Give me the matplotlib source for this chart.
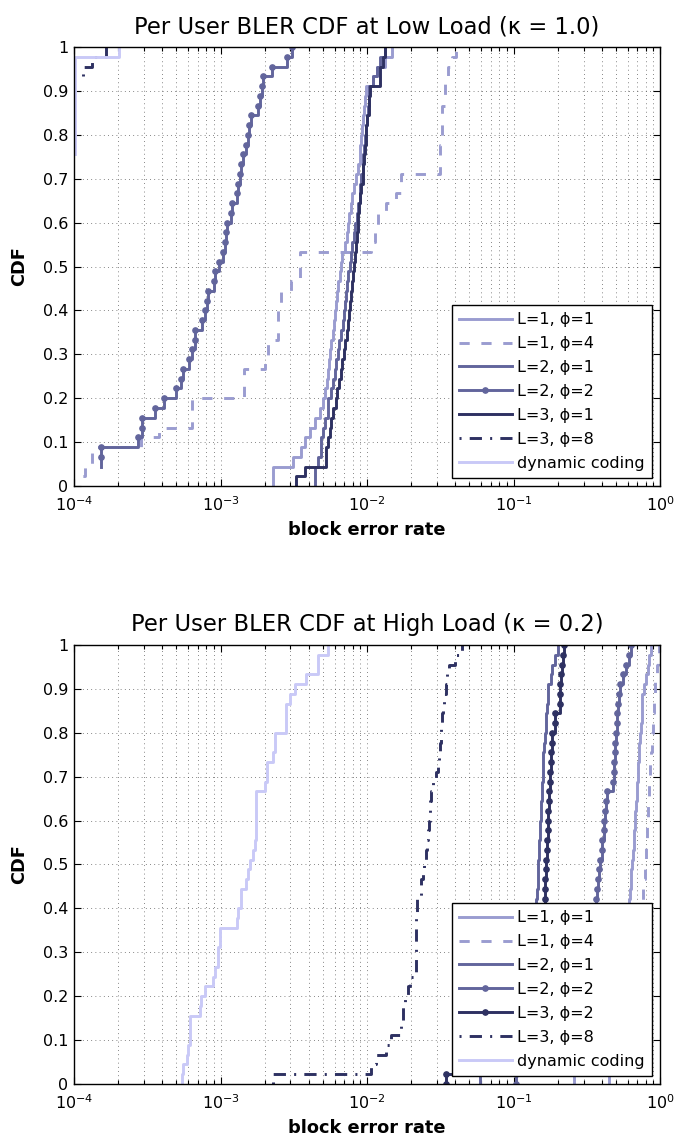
import numpy as np
import matplotlib
matplotlib.use("Agg")
import matplotlib.pyplot as plt
from matplotlib.ticker import LogLocator, NullFormatter

plt.rcParams['font.family'] = ['DejaVu Sans']
plt.rcParams['mathtext.fontset'] = 'dejavusans'

nan = np.nan

# per-user block error rate, log10, sorted (45 users); nan = no errors (off the log axis)
# --- low load (kappa = 1.0)
l1p1_low = [-2.645, -2.645, -2.505, -2.452, -2.425, -2.391, -2.357, -2.323, -2.30, -2.284,
            -2.275, -2.268, -2.259, -2.25, -2.243, -2.232, -2.225, -2.218, -2.21, -2.202,
            -2.195, -2.187, -2.18, -2.172, -2.15, -2.14, -2.13, -2.12, -2.11, -2.10,
            -2.09, -2.075, -2.06, -2.05, -2.045, -2.04, -2.035, -2.025, -2.02, -2.012,
            -2.005, -1.959, -1.93, -1.88, -1.83]
l1p4_low = [-4.02, -3.925, -3.88, -3.88, -3.542, -3.418, -3.195, -3.195, -3.195, -2.841,
            -2.841, -2.841, -2.698, -2.675, -2.675, -2.607, -2.607, -2.607, -2.584, -2.584,
            -2.516, -2.459, -2.459, -2.459, -1.97, -1.948, -1.925, -1.925, -1.868, -1.80,
            -1.766, -1.766, -1.50, -1.50, -1.50, -1.49, -1.49, -1.49, -1.49, -1.47,
            -1.47, -1.47, -1.45, -1.42, -1.39]
l2p1_low = [-2.357, -2.357, -2.334, -2.311, -2.311, -2.30, -2.289, -2.266, -2.266, -2.243,
            -2.232, -2.22, -2.21, -2.198, -2.19, -2.175, -2.167, -2.159, -2.15, -2.141,
            -2.135, -2.13, -2.118, -2.11, -2.10, -2.09, -2.08, -2.07, -2.06, -2.05,
            -2.045, -2.04, -2.03, -2.025, -2.02, -2.015, -2.005, -2.0, -1.995, -1.99,
            -1.985, -1.96, -1.93, -1.91, -1.88]
l2p2_low = [nan, nan, -3.817, -3.817, -3.560, -3.535, -3.535, -3.447, -3.384, -3.305,
            -3.271, -3.255, -3.214, -3.192, -3.176, -3.176, -3.124, -3.108, -3.090, -3.084,
            -3.043, -3.038, -3.011, -2.982, -2.971, -2.966, -2.955, -2.932, -2.921, -2.885,
            -2.878, -2.869, -2.860, -2.846, -2.824, -2.813, -2.808, -2.792, -2.747, -2.729,
            -2.718, -2.707, -2.650, -2.549, -2.515]
l3p1_low = [-2.486, -2.425, -2.277, -2.277, -2.265, -2.255, -2.243, -2.232, -2.214, -2.205,
            -2.191, -2.18, -2.168, -2.16, -2.148, -2.14, -2.132, -2.125, -2.115, -2.107,
            -2.10, -2.095, -2.091, -2.085, -2.077, -2.07, -2.065, -2.06, -2.055, -2.05,
            -2.04, -2.03, -2.025, -2.02, -2.015, -2.01, -2.005, -2.0, -1.99, -1.985,
            -1.98, -1.914, -1.91, -1.89, -1.88]
l3p8_low = [nan] * 42 + [-3.937, -3.88, -3.78]
dyn_low = [nan] * 34 + [-3.99] * 10 + [-3.693]

# --- high load (kappa = 0.2)
l1p1_high = [-0.589, -0.42, -0.38, -0.35, -0.33, -0.31, -0.295, -0.285, -0.275, -0.265,
             -0.257, -0.25, -0.243, -0.237, -0.231, -0.225, -0.22, -0.215, -0.209, -0.205,
             -0.20, -0.196, -0.191, -0.186, -0.18, -0.175, -0.172, -0.168, -0.164, -0.16,
             -0.156, -0.152, -0.148, -0.144, -0.141, -0.137, -0.13, -0.127, -0.125, -0.123,
             -0.107, -0.095, -0.084, -0.073, -0.061]
l1p4_high = [-0.35, -0.30, -0.27, -0.25, -0.23, -0.21, -0.195, -0.185, -0.175, -0.165,
             -0.158, -0.151, -0.145, -0.14, -0.135, -0.13, -0.125, -0.121, -0.118, -0.115,
             -0.107, -0.103, -0.10, -0.097, -0.095, -0.09, -0.087, -0.084, -0.08, -0.077,
             -0.073, -0.07, -0.066, -0.061, -0.058, -0.055, -0.05, -0.047, -0.043, -0.039,
             -0.036, -0.032, -0.02, -0.012, -0.005]
l2p1_high = [-1.23, -0.93, -0.92, -0.91, -0.90, -0.895, -0.89, -0.885, -0.88, -0.875,
             -0.87, -0.866, -0.862, -0.858, -0.855, -0.852, -0.85, -0.848, -0.845, -0.84,
             -0.836, -0.832, -0.83, -0.828, -0.826, -0.822, -0.818, -0.816, -0.812, -0.808,
             -0.805, -0.802, -0.799, -0.796, -0.793, -0.786, -0.78, -0.777, -0.772, -0.768,
             -0.766, -0.743, -0.735, -0.72, -0.698]
l2p2_high = [-0.985, -0.62, -0.58, -0.56, -0.54, -0.525, -0.51, -0.50, -0.49, -0.48,
             -0.472, -0.465, -0.46, -0.455, -0.45, -0.445, -0.442, -0.439, -0.436, -0.43,
             -0.424, -0.418, -0.41, -0.40, -0.395, -0.385, -0.38, -0.375, -0.37, -0.362,
             -0.323, -0.318, -0.314, -0.311, -0.306, -0.30, -0.296, -0.292, -0.289, -0.284,
             -0.277, -0.255, -0.232, -0.214, -0.202]
l3p2_high = [-1.458, -0.86, -0.85, -0.845, -0.84, -0.835, -0.83, -0.826, -0.822, -0.818,
             -0.814, -0.81, -0.807, -0.804, -0.801, -0.798, -0.795, -0.792, -0.789, -0.786,
             -0.783, -0.78, -0.777, -0.774, -0.771, -0.768, -0.766, -0.763, -0.76, -0.757,
             -0.754, -0.75, -0.747, -0.743, -0.739, -0.735, -0.72, -0.718, -0.686, -0.683,
             -0.68, -0.675, -0.668, -0.663, -0.657]
l3p8_high = [-2.641, -1.975, -1.936, -1.868, -1.834, -1.766, -1.755, -1.755, -1.743, -1.72,
             -1.709, -1.668, -1.668, -1.668, -1.664, -1.664, -1.664, -1.657, -1.657, -1.63,
             -1.63, -1.618, -1.614, -1.60, -1.59, -1.584, -1.577, -1.573, -1.568, -1.561,
             -1.55, -1.527, -1.516, -1.509, -1.505, -1.498, -1.493, -1.486, -1.482, -1.475,
             -1.464, -1.455, -1.441, -1.402, -1.35]
dyn_high = [-3.266, -3.255, -3.232, -3.22, -3.209, -3.209, -3.209, -3.141, -3.13, -3.107,
            -3.05, -3.039, -3.016, -3.016, -3.005, -3.005, -2.891, -2.88, -2.857, -2.857,
            -2.823, -2.81, -2.80, -2.777, -2.766, -2.755, -2.755, -2.755, -2.755, -2.755,
            -2.698, -2.686, -2.686, -2.641, -2.63, -2.63, -2.55, -2.55, -2.55, -2.527,
            -2.493, -2.414, -2.334, -2.334, -2.266]

y_ticks = [0, 0.1, 0.2, 0.3, 0.4, 0.5, 0.6, 0.7, 0.8, 0.9, 1]
y_tick_labels = ['0', '0.1', '0.2', '0.3', '0.4', '0.5', '0.6', '0.7', '0.8', '0.9', '1']

c1 = '#9a9cd0'
c2 = '#62659c'
c3 = '#2e3162'
c_dyn = '#c9c9f7'
lw = 2.1
dashed = (0, (3.5, 4.0))
dashdot = (0, (0.7, 2.8, 4.2, 2.8))


def draw_cdf(ax, log_bler, label, **kw):
    x = 10.0 ** np.asarray(log_bler, dtype=float)
    y = np.arange(1, len(x) + 1) / len(x)
    # cdfplot style: start the first step at 0
    x = np.r_[x[0], x]
    y = np.r_[0.0, y]
    ax.plot(x, y, drawstyle='steps-post', lw=lw, label=label, **kw)


def style_axes(ax, title):
    ax.set_xscale('log')
    ax.set_xlim(1e-4, 1)
    ax.set_ylim(0, 1)
    ax.set_yticks(y_ticks)
    ax.set_yticklabels(y_tick_labels)
    ax.xaxis.set_major_locator(LogLocator(base=10, numticks=10))
    ax.xaxis.set_minor_locator(LogLocator(base=10, subs=np.arange(2, 10), numticks=40))
    ax.xaxis.set_minor_formatter(NullFormatter())
    grid_kw = dict(color='#404040', lw=0.55, linestyle=(0, (1, 4.5)))
    ax.grid(True, which='major', **grid_kw)
    ax.grid(True, which='minor', axis='x', **grid_kw)
    ax.tick_params(which='both', direction='in', top=True, right=True, labelsize=11.5,
                   width=0.8, colors='black')
    ax.tick_params(which='major', length=5)
    ax.tick_params(axis='x', which='major', pad=7)
    ax.tick_params(axis='y', which='major', pad=4)
    ax.tick_params(which='minor', length=3)
    for s in ax.spines.values():
        s.set_linewidth(1.0)
    ax.set_title(title, fontsize=16.3, pad=10)
    ax.set_xlabel('block error rate', fontsize=12.8, fontweight='bold', labelpad=5)
    ax.set_ylabel('CDF', fontsize=12.8, fontweight='bold', labelpad=11)
    leg = ax.legend(loc='lower right', fontsize=11.5, numpoints=1, fancybox=False,
                    framealpha=1, edgecolor='black', handlelength=3.3,
                    handletextpad=0.35, labelspacing=0.56, borderaxespad=0.5,
                    borderpad=0.45)
    leg.get_frame().set_linewidth(1.0)


fig = plt.figure(figsize=(6.76, 11.42), dpi=100)

ax1 = fig.add_axes([0.1095, 0.5744, 0.867, 0.3844])
draw_cdf(ax1, l1p1_low, 'L=1, ϕ=1', color=c1)
draw_cdf(ax1, l1p4_low, 'L=1, ϕ=4', color=c1, linestyle=dashed)
draw_cdf(ax1, l2p1_low, 'L=2, ϕ=1', color=c2)
draw_cdf(ax1, l2p2_low, 'L=2, ϕ=2', color=c2, marker='o', markersize=3.8)
draw_cdf(ax1, l3p1_low, 'L=3, ϕ=1', color=c3)
draw_cdf(ax1, l3p8_low, 'L=3, ϕ=8', color=c3, linestyle=dashdot)
draw_cdf(ax1, dyn_low, 'dynamic coding', color=c_dyn)
style_axes(ax1, 'Per User BLER CDF at Low Load (κ = 1.0)')

ax2 = fig.add_axes([0.1095, 0.0508, 0.867, 0.3844])
draw_cdf(ax2, l1p1_high, 'L=1, ϕ=1', color=c1)
draw_cdf(ax2, l1p4_high, 'L=1, ϕ=4', color=c1, linestyle=dashed)
draw_cdf(ax2, l2p1_high, 'L=2, ϕ=1', color=c2)
draw_cdf(ax2, l2p2_high, 'L=2, ϕ=2', color=c2, marker='o', markersize=3.8)
draw_cdf(ax2, l3p2_high, 'L=3, ϕ=2', color=c3, marker='o', markersize=3.8)
draw_cdf(ax2, l3p8_high, 'L=3, ϕ=8', color=c3, linestyle=dashdot)
draw_cdf(ax2, dyn_high, 'dynamic coding', color=c_dyn)
style_axes(ax2, 'Per User BLER CDF at High Load (κ = 0.2)')

fig.savefig('out.png', dpi=100)
